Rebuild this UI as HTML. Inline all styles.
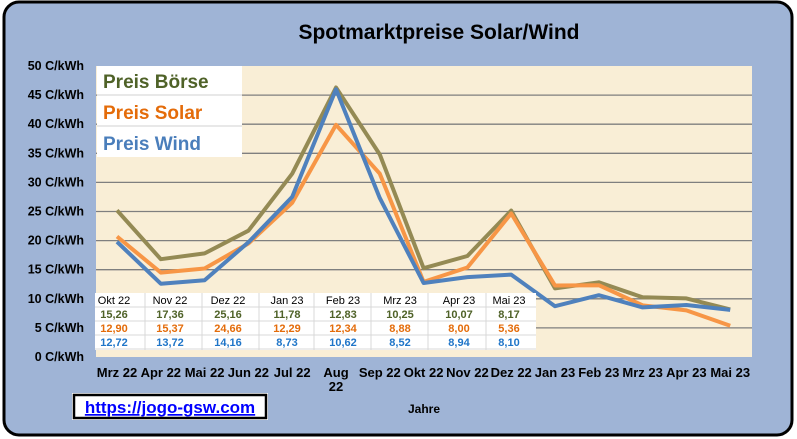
<!DOCTYPE html>
<html><head><meta charset="utf-8"><style>
html,body{margin:0;padding:0;background:#fff}
svg{display:block}
text{font-family:"Liberation Sans",Arial,sans-serif}
</style></head><body>
<svg id="s" width="797" height="439" xmlns="http://www.w3.org/2000/svg">
<rect x="4" y="2" width="788" height="433" rx="15" fill="#9fb4d6" stroke="#000" stroke-width="3"/>
<rect x="96" y="66" width="656" height="291" fill="#f9eed6"/>
<g id="grid" stroke="#7f7f7f" stroke-width="1.3"></g>
<g id="ylab" font-size="12.5" font-weight="bold" fill="#000" text-anchor="end"></g>
<g id="xlab" font-size="13" font-weight="bold" fill="#000" text-anchor="middle"></g>
<g id="lines" fill="none" stroke-width="4" stroke-linejoin="round"></g>
<text x="439" y="39" font-size="21" font-weight="bold" text-anchor="middle" font-family="'DejaVu Sans',sans-serif">Spotmarktpreise  Solar/Wind</text>
<rect x="97" y="66" width="145" height="91" fill="#fff"/>
<line x1="97" y1="95" x2="242" y2="95" stroke="#d0d0d0"/>
<line x1="97" y1="126" x2="242" y2="126" stroke="#d0d0d0"/>
<text x="103" y="88" font-size="19" font-weight="bold" fill="#4f6228">Preis Börse</text>
<text x="103" y="119" font-size="19" font-weight="bold" fill="#e46c0a">Preis Solar</text>
<text x="103" y="150" font-size="19" font-weight="bold" fill="#4a7ebb">Preis Wind</text>
<g id="tbl"></g>
<rect x="72" y="393" width="196" height="27" fill="#fff"/>
<rect x="74" y="395" width="192" height="23" fill="#fff" stroke="#000" stroke-width="2.5"/>
<text x="170" y="413" font-size="17" font-weight="bold" fill="#0000ff" text-anchor="middle" text-decoration="underline">https://jogo-gsw.com</text>
<text x="424" y="413" font-size="12" font-weight="bold" text-anchor="middle">Jahre</text>
</svg>
<script>
var NS="http://www.w3.org/2000/svg";
function el(p,t,a,txt){var e=document.createElementNS(NS,t);for(var k in a)e.setAttribute(k,a[k]);if(txt!=null)e.textContent=txt;document.getElementById(p).appendChild(e);return e;}
function Y(v){return 357-v*5.82;}
for(var v=5;v<=45;v+=5){el("grid","line",{x1:96,x2:752,y1:Y(v),y2:Y(v)});}
for(var v=0;v<=50;v+=5){el("ylab","text",{x:84,y:Y(v)+4},v+" C/kWh");}
var cats=["Mrz 22","Apr 22","Mai 22","Jun 22","Jul 22","Aug 22","Sep 22","Okt 22","Nov 22","Dez 22","Jan 23","Feb 23","Mrz 23","Apr 23","Mai 23"];
function X(i){return 117+i*43.8;}
cats.forEach(function(c,i){
 if(c=="Aug 22"){el("xlab","text",{x:X(i),y:377},"Aug");el("xlab","text",{x:X(i),y:391},"22");}
 else el("xlab","text",{x:X(i),y:377},c);
});
var B=[25.2,16.8,17.8,21.7,31.5,46.3,34.8,15.26,17.36,25.16,11.78,12.83,10.25,10.07,8.17];
var S=[20.7,14.5,15.2,19.5,26.5,39.9,31.5,12.9,15.37,24.66,12.29,12.34,8.88,8.0,5.36];
var W=[19.8,12.6,13.2,19.7,27.5,46.0,27.3,12.72,13.72,14.16,8.73,10.62,8.52,8.94,8.10];
function pts(a){return a.map(function(v,i){return X(i).toFixed(1)+","+Y(v).toFixed(1);}).join(" ");}
el("lines","polyline",{points:pts(B),stroke:"#948a54"});
el("lines","polyline",{points:pts(S),stroke:"#f79646"});
el("lines","polyline",{points:pts(W),stroke:"#4f81bd"});
el("tbl","rect",{x:95,y:293,width:441,height:57,fill:"#fff"});
var tc=["Okt 22","Nov 22","Dez 22","Jan 23","Feb 23","Mrz 23","Apr 23","Mai 23"];
var r1=["15,26","17,36","25,16","11,78","12,83","10,25","10,07","8,17"];
var r2=["12,90","15,37","24,66","12,29","12,34","8,88","8,00","5,36"];
var r3=["12,72","13,72","14,16","8,73","10,62","8,52","8,94","8,10"];
var cx=[114,170,228,287,343,400,459,509];
var bounds=[95,145,202,259,314,371,428,486,536];
for(var j=1;j<8;j++)el("tbl","line",{x1:bounds[j],x2:bounds[j],y1:293,y2:350,stroke:"#d8d8d8"});
[307,321,335,349].forEach(function(y){el("tbl","line",{x1:95,x2:536,y1:y,y2:y,stroke:"#d8d8d8"});});
for(var j=0;j<8;j++){
 el("tbl","text",{x:cx[j],y:304,"font-size":11,"text-anchor":"middle",fill:"#000"},tc[j]);
 el("tbl","text",{x:cx[j],y:318,"font-size":11,"font-weight":"bold","text-anchor":"middle",fill:"#4f6228"},r1[j]);
 el("tbl","text",{x:cx[j],y:332,"font-size":11,"font-weight":"bold","text-anchor":"middle",fill:"#e46c0a"},r2[j]);
 el("tbl","text",{x:cx[j],y:346,"font-size":11,"font-weight":"bold","text-anchor":"middle",fill:"#1f75c8"},r3[j]);
}
</script>
</body></html>
